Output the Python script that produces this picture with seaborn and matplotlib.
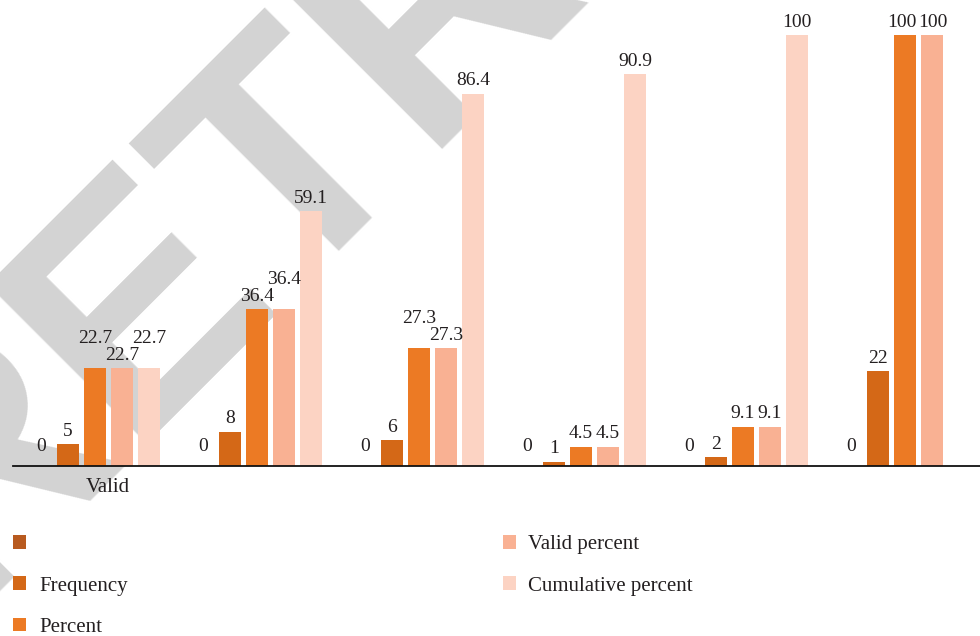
import matplotlib
matplotlib.use("Agg")
import matplotlib.pyplot as plt
import matplotlib.patches as mpatches
from matplotlib.transforms import ScaledTranslation
import numpy as np
import pandas as pd
import seaborn as sns

# ---- data ----
categories = ["Valid", "", "", "", "", ""]
series_names = ["", "Frequency", "Percent", "Valid percent", "Cumulative percent"]
blank_series = [0, 0, 0, 0, 0, 0]
frequency = [5, 8, 6, 1, 2, 22]
percent = [22.7, 36.4, 27.3, 4.5, 9.1, 100]
valid_percent = [22.7, 36.4, 27.3, 4.5, 9.1, 100]
cumulative_percent = [22.7, 59.1, 86.4, 90.9, 100, np.nan]

palette = ["#B85A1F", "#D46817", "#EC7A24", "#F9B193", "#FCD3C3"]
text_color = "#231F20"

# value labels lifted one step so neighbouring labels don't collide
raised_labels = {(0, "Percent"), (0, "Cumulative percent"),
                 (1, "Valid percent"), (2, "Percent")}
# small sideways nudges (points) for labels that would touch
label_nudge_x = {(5, "Percent"): -2.5, (5, "Valid percent"): 0.8}

sns.set_theme(style="white")
plt.rcParams["font.family"] = ["Liberation Serif", "DejaVu Serif"]

rows = []
for name, vals in zip(series_names, [blank_series, frequency, percent,
                                     valid_percent, cumulative_percent]):
    for i, v in enumerate(vals):
        rows.append({"group": i, "series": name, "value": v})
df = pd.DataFrame(rows)

W, H = 980, 636
fig = plt.figure(figsize=(W / 100, H / 100), dpi=100)
ax = fig.add_axes([13 / W, 170 / H, 967 / W, 466 / H])
ax.patch.set_alpha(0)

# diagonal stamp behind the chart
fig.text(-41 / W, 1 - 610 / H, "RETRACTED", rotation=45, rotation_mode="anchor",
         ha="left", va="baseline", fontsize=235, fontweight="bold",
         family="Liberation Sans", color="#D3D3D3", zorder=-1)

sns.barplot(data=df, x="group", y="value", hue="series", hue_order=series_names,
            palette=palette, width=0.833, gap=0.185, saturation=1,
            linewidth=0, edgecolor="none",
            errorbar=None, legend=False, ax=ax)

ax.set_xlim(-0.506, 5.463)
ax.set_ylim(0, 108.1)

# value labels above each bar
for container, name in zip(ax.containers, series_names):
    for bar in container:
        h = bar.get_height()
        if np.isnan(h):
            continue
        xc = bar.get_x() + bar.get_width() / 2
        g = int(round(xc))
        dy = 6
        if (g, name) in raised_labels:
            dy += 12
        if h == 0:
            dy += 5
        dx = label_nudge_x.get((g, name), 0)
        ax.annotate(f"{h:g}", (xc, h), xytext=(dx, dy), textcoords="offset points",
                    ha="center", va="baseline", fontsize=14, color=text_color)

for side in ["left", "right", "top"]:
    ax.spines[side].set_visible(False)
ax.spines["bottom"].set_color("#111111")
ax.spines["bottom"].set_linewidth(1.3)
ax.set_yticks([])
ax.set_xlabel("")
ax.set_ylabel("")
ax.set_xticks(range(len(categories)))
ax.set_xticklabels(categories, fontsize=15, color=text_color)
ax.tick_params(axis="x", length=0, pad=9)
for lbl in ax.get_xticklabels():
    lbl.set_transform(lbl.get_transform() + ScaledTranslation(0.13, 0, fig.dpi_scale_trans))

handles = [mpatches.Patch(facecolor=c, edgecolor="none") for c in palette]
leg = ax.legend(handles, series_names, loc="upper left",
                bbox_to_anchor=(13 / W, 1 - 535 / H), bbox_transform=fig.transFigure,
                ncol=2, frameon=False, fontsize=15, handlelength=0.625,
                handleheight=0.625, handletextpad=0.62, labelspacing=1.07,
                columnspacing=18.0, borderpad=0, borderaxespad=0)
for t in leg.get_texts():
    t.set_color(text_color)

fig.savefig("out.png", dpi=100)
